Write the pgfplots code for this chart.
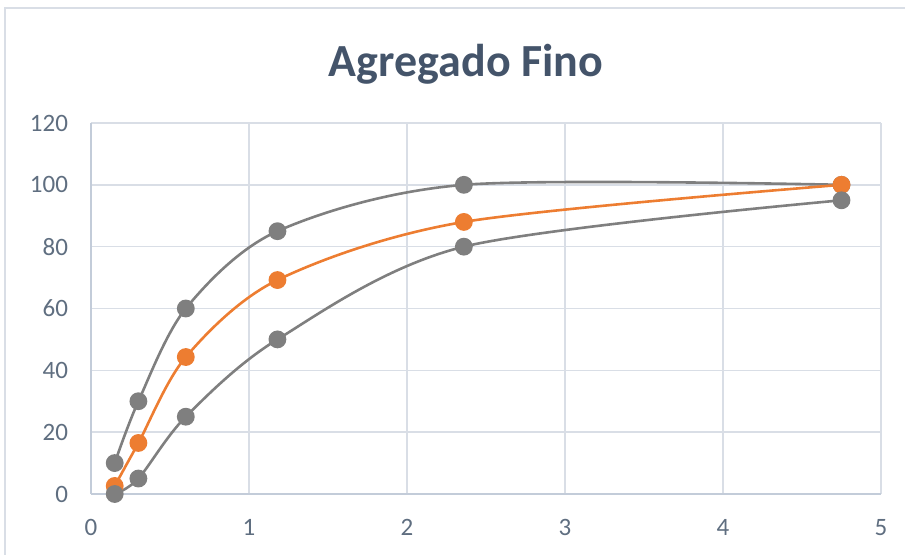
\documentclass[border=0pt]{standalone}
\usepackage{fontspec}
\setmainfont{Carlito}
\usepackage{pgfplots}
\pgfplotsset{compat=1.18}
\definecolor{serieGris}{HTML}{7F7F7F}
\definecolor{serieNaranja}{HTML}{ED7D31}
\definecolor{rejilla}{HTML}{D9DEE6}
\definecolor{ejes}{HTML}{C3CCD9}
\definecolor{titulo}{HTML}{44546A}
\definecolor{etiqueta}{HTML}{5F6E80}

\begin{document}
\begin{tikzpicture}
\useasboundingbox (-45.5pt,-30.5pt) rectangle (407pt,247pt);
\draw[rejilla, line width=0.8pt] (-43pt,-32pt) rectangle (409pt,243pt);
\begin{axis}[
  at={(0,0)}, anchor=south west,
  scale only axis,
  width=395pt, height=185.5pt,
  xmin=0, xmax=5, ymin=0, ymax=120,
  xtick={0,1,2,3,4,5}, ytick={0,20,40,60,80,100,120},
  grid=major,
  major grid style={rejilla, line width=0.8pt},
  axis line style={ejes, line width=0.9pt},
  axis x line*=bottom, axis y line*=left,
  major tick length=0pt,
  tick label style={font=\fontsize{12.5}{14}\selectfont, text=etiqueta},
  yticklabel style={xshift=-8pt},
  xticklabel style={yshift=-9pt},
  /pgf/number format/assume math mode=true,
  title={\fontsize{23}{27}\selectfont\bfseries Agregado Fino},
  title style={text=titulo, yshift=10pt, xshift=-10pt},
  every axis plot/.append style={smooth, tension=0.5, line width=1.3pt, mark=*, mark size=3.8pt},
]
\addplot[serieGris, mark options={fill=serieGris, draw=serieGris}] coordinates {
  (0.15,10) (0.3,30) (0.6,60) (1.18,85) (2.36,100) (4.75,100)};
\addplot[serieNaranja, mark options={fill=serieNaranja, draw=serieNaranja}] coordinates {
  (0.15,2.6) (0.3,16.5) (0.6,44.3) (1.18,69.2) (2.36,88) (4.75,100)};
\addplot[serieGris, mark options={fill=serieGris, draw=serieGris}] coordinates {
  (0.15,0) (0.3,5) (0.6,25) (1.18,50) (2.36,80) (4.75,95)};
\end{axis}
\end{tikzpicture}
\end{document}
